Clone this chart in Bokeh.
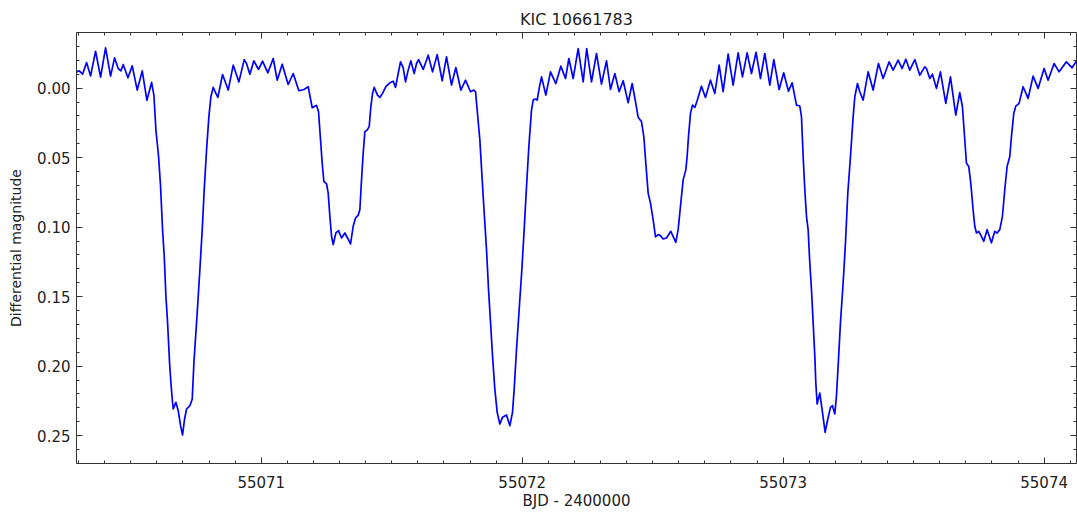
from bokeh.plotting import figure
from bokeh.models import Range1d, LinearAxis, SingleIntervalTicker, NumeralTickFormatter, ColumnDataSource
from bokeh.embed import file_html
from bokeh.resources import INLINE

TITLE = "KIC 10661783"
XLABEL = "BJD - 2400000"
YLABEL = "Differential magnitude"

bjd = [
    55070.2923, 55070.3025, 55070.3153, 55070.3306, 55070.3459, 55070.3651, 55070.3843, 55070.4034,
    55070.4226, 55070.4379, 55070.4519, 55070.4622, 55070.4711, 55070.4890, 55070.5056, 55070.5247,
    55070.5439, 55070.5618, 55070.5797, 55070.5886, 55070.5963, 55070.6065, 55070.6141, 55070.6218,
    55070.6282, 55070.6346, 55070.6410, 55070.6486, 55070.6537, 55070.6588, 55070.6627, 55070.6729,
    55070.6818, 55070.6908, 55070.6984, 55070.7061, 55070.7138, 55070.7265, 55070.7355, 55070.7419,
    55070.7546, 55070.7648, 55070.7738, 55070.7814, 55070.7904, 55070.7993, 55070.8070, 55070.8159,
    55070.8261, 55070.8338, 55070.8517, 55070.8734, 55070.8926, 55070.9143, 55070.9347,
    55070.9436, 55070.9564, 55070.9717, 55070.9896, 55071.0049, 55071.0253, 55071.0458, 55071.0611,
    55071.0803, 55071.1032, 55071.1224, 55071.1441, 55071.1633, 55071.1799, 55071.1952, 55071.2118,
    55071.2195, 55071.2272, 55071.2335, 55071.2399, 55071.2501, 55071.2565, 55071.2629, 55071.2693,
    55071.2757, 55071.2859, 55071.2961, 55071.3076, 55071.3204, 55071.3306, 55071.3421, 55071.3523,
    55071.3613, 55071.3715, 55071.3778, 55071.3842, 55071.3906, 55071.3970, 55071.4059, 55071.4136,
    55071.4200, 55071.4264, 55071.4327, 55071.4455, 55071.4545, 55071.4647, 55071.4774, 55071.4928,
    55071.5055, 55071.5145, 55071.5247, 55071.5336, 55071.5438, 55071.5528, 55071.5630, 55071.5732,
    55071.5860,
    55071.5950, 55071.6027, 55071.6205, 55071.6397, 55071.6563, 55071.6742, 55071.6933, 55071.7099,
    55071.7291, 55071.7457, 55071.7649, 55071.7827, 55071.8019, 55071.8147, 55071.8211, 55071.8274,
    55071.8377, 55071.8466, 55071.8543, 55071.8632, 55071.8709, 55071.8786, 55071.8862, 55071.8951,
    55071.9041, 55071.9143, 55071.9245, 55071.9398, 55071.9526, 55071.9628, 55071.9692, 55071.9781,
    55071.9884, 55071.9986, 55072.0075, 55072.0165, 55072.0254, 55072.0356, 55072.0420, 55072.0497,
    55072.0573, 55072.0650, 55072.0739, 55072.0905, 55072.1084, 55072.1288, 55072.1480, 55072.1659,
    55072.1787, 55072.1952, 55072.2144, 55072.2336,
    55072.2470, 55072.2655, 55072.2846, 55072.3038, 55072.3229, 55072.3383, 55072.3549, 55072.3715,
    55072.3868, 55072.4059, 55072.4213, 55072.4353, 55072.4443, 55072.4570, 55072.4660, 55072.4736,
    55072.4826, 55072.4915, 55072.5017, 55072.5107, 55072.5209, 55072.5298, 55072.5400, 55072.5528,
    55072.5694, 55072.5886, 55072.5975, 55072.6077, 55072.6167, 55072.6269, 55072.6320, 55072.6371,
    55072.6448, 55072.6524, 55072.6614, 55072.6703, 55072.6869, 55072.7022, 55072.7214, 55072.7380,
    55072.7546, 55072.7699, 55072.7891, 55072.8082, 55072.8274, 55072.8440, 55072.8619, 55072.8785,
    55072.8960, 55072.9130, 55072.9296, 55072.9488, 55072.9641, 55072.9845, 55073.0019, 55073.0203,
    55073.0344, 55073.0510, 55073.0637, 55073.0701, 55073.0765, 55073.0829, 55073.0893, 55073.0956,
    55073.1020, 55073.1084, 55073.1148, 55073.1212, 55073.1250, 55073.1301, 55073.1403, 55073.1506,
    55073.1608, 55073.1710, 55073.1812, 55073.1889, 55073.1978, 55073.2042, 55073.2106, 55073.2195,
    55073.2298, 55073.2387, 55073.2476, 55073.2579, 55073.2681, 55073.2745, 55073.2847, 55073.2936,
    55073.3064, 55073.3255, 55073.3447, 55073.3651, 55073.3830, 55073.4060, 55073.4213, 55073.4405,
    55073.4558, 55073.4699, 55073.4852, 55073.5044, 55073.5235, 55073.5427,
    55073.5490, 55073.5618, 55073.5720, 55073.5873, 55073.6026, 55073.6231, 55073.6410, 55073.6614,
    55073.6767, 55073.6869, 55073.6959, 55073.7023, 55073.7112, 55073.7189, 55073.7278, 55073.7342,
    55073.7406, 55073.7495, 55073.7597, 55073.7687, 55073.7814, 55073.7980, 55073.8108, 55073.8197,
    55073.8300, 55073.8402, 55073.8491, 55073.8581, 55073.8683, 55073.8747, 55073.8836, 55073.8913,
    55073.9040, 55073.9194, 55073.9385, 55073.9577, 55073.9768, 55073.9998, 55074.0152, 55074.0381,
    55074.0573, 55074.0854, 55074.1071, 55074.1237,
]

dmag = [
    -0.0117, -0.0124, -0.0100, -0.0184, -0.0088, -0.0265, -0.0079, -0.0289,
    -0.0086, -0.0217, -0.0141, -0.0124, -0.0170, -0.0074, -0.0160, 0.0014,
    -0.0124, 0.0088, -0.0041, 0.0050, 0.0301, 0.0492, 0.0707, 0.1018,
    0.1209, 0.1496, 0.1687, 0.1974, 0.2117, 0.2237, 0.2308, 0.2260,
    0.2320, 0.2428, 0.2495, 0.2380, 0.2308, 0.2284, 0.2237, 0.1974,
    0.1615, 0.1305, 0.1018, 0.0731, 0.0444, 0.0205, 0.0062, -0.0005,
    0.0038, 0.0067, -0.0098, 0.0014, -0.0165, -0.0045, -0.0205,
    -0.0177, -0.0100, -0.0196, -0.0134, -0.0194, -0.0110, -0.0213, -0.0057,
    -0.0172, -0.0026, -0.0105, 0.0019, 0.0010, -0.0010, 0.0141, 0.0124,
    0.0170, 0.0373, 0.0540, 0.0671, 0.0688, 0.0755, 0.0922, 0.1066,
    0.1125, 0.1042, 0.1025, 0.1078, 0.1042, 0.1078, 0.1121, 0.0994,
    0.0934, 0.0915, 0.0875, 0.0659, 0.0468, 0.0313, 0.0301, 0.0277,
    0.0134, 0.0038, -0.0005, 0.0050, 0.0067, 0.0038, -0.0010, -0.0038,
    -0.0050, -0.0005, -0.0105, -0.0189, -0.0148, -0.0045, -0.0129, -0.0196,
    -0.0105,
    -0.0177, -0.0205, -0.0134, -0.0237, -0.0117, -0.0241, -0.0053, -0.0225,
    -0.0022, -0.0148, 0.0014, -0.0057, 0.0026, 0.0014, 0.0026, 0.0158,
    0.0373, 0.0659, 0.0898, 0.1161, 0.1448, 0.1687, 0.1926, 0.2165,
    0.2332, 0.2416, 0.2368, 0.2351, 0.2428, 0.2332, 0.2165, 0.1878,
    0.1591, 0.1305, 0.1018, 0.0707, 0.0421, 0.0158, 0.0086, 0.0079,
    0.0086, 0.0002, -0.0081, 0.0050, -0.0117, -0.0033, -0.0158, -0.0069,
    -0.0213, -0.0069, -0.0284, -0.0045,
    -0.0284, -0.0045, -0.0249, -0.0029, -0.0196, 0.0010, -0.0105, 0.0026,
    -0.0053, 0.0105, -0.0033, 0.0110, 0.0210, 0.0241, 0.0349, 0.0540,
    0.0755, 0.0827, 0.0946, 0.1070, 0.1054, 0.1061, 0.1085, 0.1078,
    0.1030, 0.1109, 0.1018, 0.0827, 0.0660, 0.0588, 0.0492, 0.0349,
    0.0182, 0.0122, 0.0139, 0.0091, -0.0014, 0.0067, -0.0057, 0.0038,
    -0.0165, 0.0026, -0.0244, -0.0022, -0.0253, -0.0081, -0.0253, -0.0105,
    -0.0258, -0.0069, -0.0249, -0.0022, -0.0205, 0.0010, -0.0110, 0.0022,
    -0.0038, 0.0122, 0.0129, 0.0205, 0.0492, 0.0731, 0.0922, 0.1018,
    0.1257, 0.1448, 0.1687, 0.1926, 0.2117, 0.2272, 0.2194, 0.2332,
    0.2476, 0.2380, 0.2296, 0.2284, 0.2344, 0.2213, 0.1998, 0.1687,
    0.1400, 0.1113, 0.0755, 0.0492, 0.0205, 0.0062, -0.0033, 0.0026,
    0.0086, -0.0117, 0.0014, -0.0177, -0.0069, -0.0189, -0.0129, -0.0201,
    -0.0141, -0.0208, -0.0129, -0.0205, -0.0093, -0.0153,
    -0.0141, -0.0069, -0.0100, 0.0002, -0.0117, 0.0110, -0.0081, 0.0194,
    0.0033, 0.0134, 0.0373, 0.0540, 0.0564, 0.0683, 0.0875, 0.0994,
    0.1042, 0.1030, 0.1066, 0.1102, 0.1018, 0.1113, 0.1030, 0.1042,
    0.1018, 0.0922, 0.0731, 0.0564, 0.0492, 0.0349, 0.0182, 0.0129,
    0.0110, -0.0010, 0.0074, -0.0086, 0.0002, -0.0141, -0.0057, -0.0177,
    -0.0117, -0.0189, -0.0146, -0.0196,
]

X_START, X_END = 55070.292, 55074.124
Y_BOTTOM, Y_TOP = 0.27, -0.04

FONT = "DejaVu Sans"
TXT = "#222222"

src = ColumnDataSource(data=dict(t=bjd, m=dmag))

p = figure(width=1077, height=512, output_backend="svg", toolbar_location=None,
           x_range=Range1d(X_START, X_END), y_range=Range1d(Y_BOTTOM, Y_TOP),
           min_border_left=76, min_border_right=1, min_border_top=32, min_border_bottom=48,
           background_fill_color="white", border_fill_color="white")
p.outline_line_color = None
p.grid.visible = False

p.line("t", "m", source=src, line_color="#0000ff", line_width=1.7, line_join="round")

p.title.text = TITLE
p.title.align = "center"
p.title.text_font = FONT
p.title.text_font_size = "16px"
p.title.text_font_style = "normal"
p.title.text_color = TXT
p.title.standoff = 8

def style_axis(ax, labels=True):
    ax.axis_line_color = "#333333"
    ax.axis_line_width = 1
    ax.major_tick_in = 6
    ax.major_tick_out = 0
    ax.minor_tick_in = 3
    ax.minor_tick_out = 0
    ax.major_tick_line_color = "#333333"
    ax.minor_tick_line_color = "#333333"
    if labels:
        ax.major_label_text_font = FONT
        ax.major_label_text_font_size = "15px"
        ax.major_label_text_color = TXT
        ax.axis_label_text_font = FONT
        ax.axis_label_text_font_size = "14px"
        ax.axis_label_text_font_style = "normal"
        ax.axis_label_text_color = TXT
    else:
        ax.major_label_text_font_size = "0px"
        ax.major_label_text_color = None
        ax.major_label_text_alpha = 0
        ax.major_label_standoff = 0

xa = p.xaxis[0]
xa.ticker = SingleIntervalTicker(interval=1, num_minor_ticks=10)
xa.formatter = NumeralTickFormatter(format="0")
xa.axis_label = XLABEL
style_axis(xa)
xa.axis_label_text_font_size = "15px"
xa.major_label_standoff = 12
xa.axis_label_standoff = 1

ya = p.yaxis[0]
ya.ticker = SingleIntervalTicker(interval=0.05, num_minor_ticks=5)
ya.formatter = NumeralTickFormatter(format="0.00")
ya.axis_label = YLABEL
style_axis(ya)
ya.major_label_standoff = 6
ya.axis_label_standoff = 10

top = LinearAxis(ticker=SingleIntervalTicker(interval=1, num_minor_ticks=10))
style_axis(top, labels=False)
p.add_layout(top, "above")
right = LinearAxis(ticker=SingleIntervalTicker(interval=0.05, num_minor_ticks=5))
style_axis(right, labels=False)
p.add_layout(right, "right")

open("out.html", "w").write(file_html(p, INLINE))
